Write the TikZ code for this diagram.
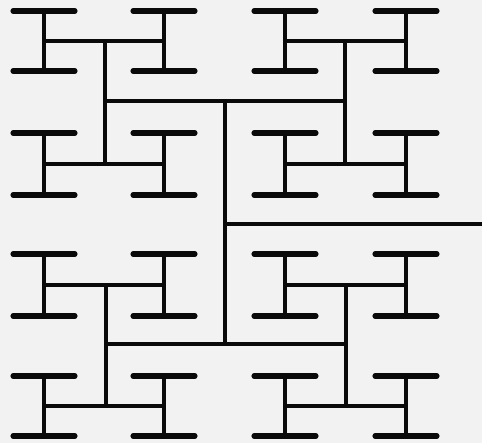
\documentclass[tikz,border=0pt]{standalone}
\definecolor{paper}{RGB}{242,242,242}
\definecolor{ink}{RGB}{10,10,10}
\begin{document}
\begin{tikzpicture}[x=0.75pt,y=-0.75pt,
  bar/.style={draw=ink,line width=3.8pt,line cap=round},
  wire/.style={draw=ink,line width=3.3pt,line cap=rect}]
\fill[paper] (0,0) rectangle (482,443);
\useasboundingbox (0,0) rectangle (482,443);
% root trunk
\coordinate (root) at (484,224);
\coordinate (c0) at (225,224);
\coordinate (c0t) at (225,101);
\coordinate (c0b) at (225,344);
\draw[wire] (root) -- (c0);
\draw[wire] (c0t) -- (c0b);
% level 1 horizontals
\coordinate (tl) at (105,101);
\coordinate (tr) at (345,101);
\coordinate (bl) at (106,344);
\coordinate (br) at (346,344);
\draw[wire] (tl) -- (tr);
\draw[wire] (bl) -- (br);
% level 2 verticals and horizontals, leaf H cells
\foreach \vx/\lx/\rx in {105/44/164, 345/285/406}{
  \draw[wire] (\vx,41) -- (\vx,164);
  \draw[wire] (\lx,41) -- (\rx,41);
  \draw[wire] (\lx,164) -- (\rx,164);
  \foreach \cx in {\lx,\rx}{
    \foreach \ya/\yb in {11/71, 133/195}{
      \draw[wire] (\cx,\ya) -- (\cx,\yb);
      \draw[bar] ({\cx-31},\ya) -- ({\cx+31},\ya);
      \draw[bar] ({\cx-31},\yb) -- ({\cx+31},\yb);
    }
  }
}
\foreach \vx/\lx/\rx in {106/44/164, 346/285/406}{
  \draw[wire] (\vx,285) -- (\vx,406);
  \draw[wire] (\lx,285) -- (\rx,285);
  \draw[wire] (\lx,406) -- (\rx,406);
  \foreach \cx in {\lx,\rx}{
    \foreach \ya/\yb in {254/316, 376/436}{
      \draw[wire] (\cx,\ya) -- (\cx,\yb);
      \draw[bar] ({\cx-31},\ya) -- ({\cx+31},\ya);
      \draw[bar] ({\cx-31},\yb) -- ({\cx+31},\yb);
    }
  }
}
\end{tikzpicture}
\end{document}
